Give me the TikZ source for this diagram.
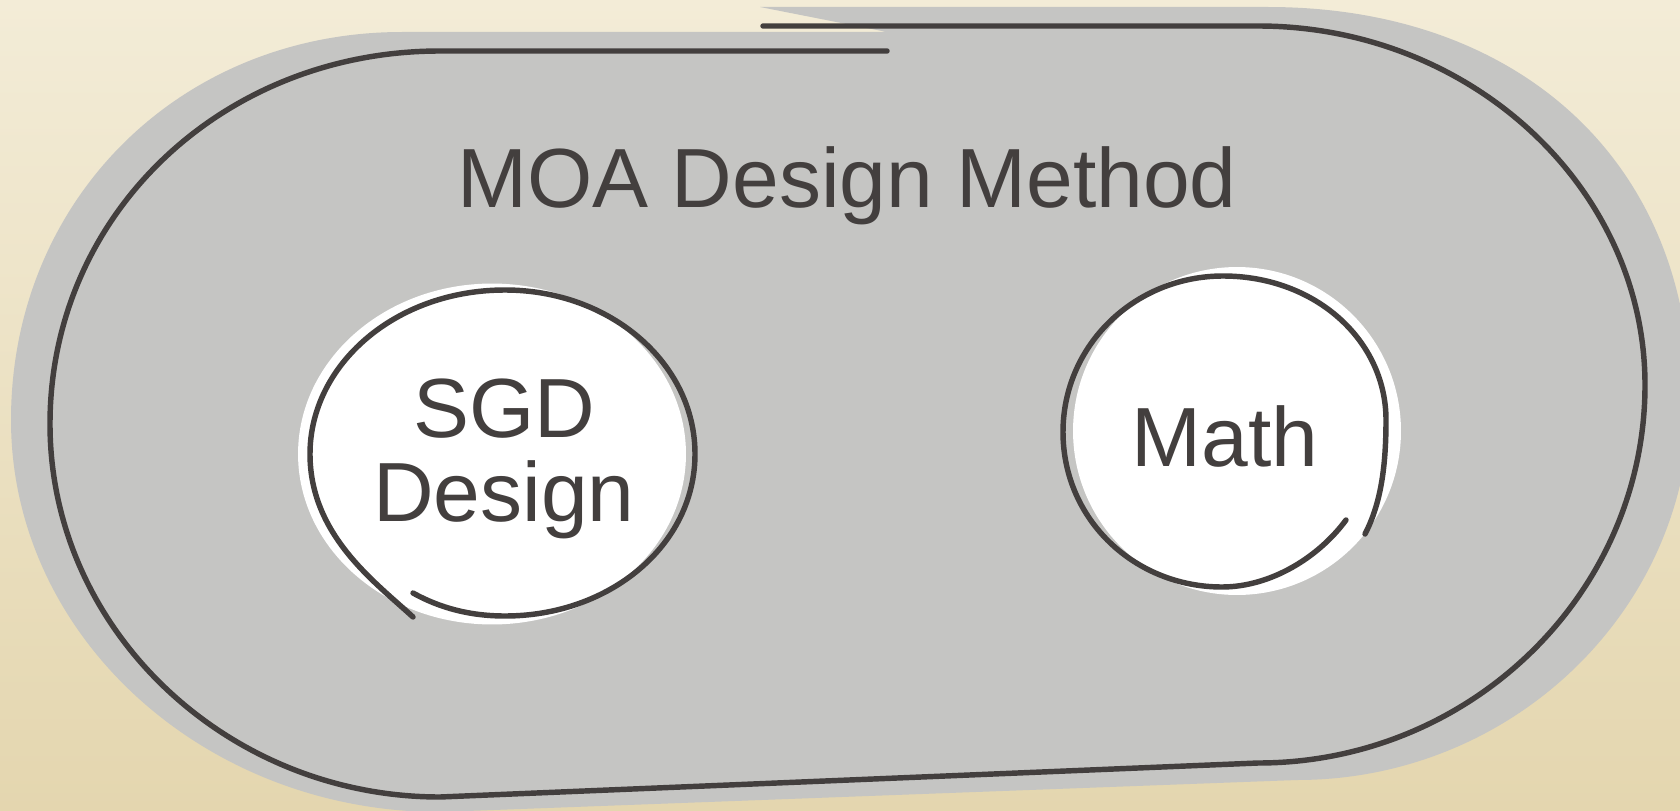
\documentclass[tikz,border=0pt]{standalone}
\usepackage{fontspec}
\setmainfont{Liberation Sans}

\definecolor{paper}{HTML}{F3ECD7}
\definecolor{paperdark}{HTML}{E4D6AF}
\definecolor{pill}{HTML}{C5C5C3}
\definecolor{ink}{HTML}{433F3E}

\begin{document}
\begin{tikzpicture}[x=0.02cm, y=-0.02cm,
    inkline/.style={draw=ink, line width=3.1pt, line cap=round, line join=round},
    words/.style={text=ink, inner sep=0pt, align=center,
                  font=\fontsize{47.8}{47.8}\selectfont}
]
    \useasboundingbox (0,0) rectangle (1680,811);
    \shade[top color=paper, bottom color=paperdark] (0,0) rectangle (1680,811);

    % grey body, a bit off the outline
    \fill[pill] (760,7) -- (1268,7)
        .. controls (1521,7) and (1690,164) .. (1690,400)
        .. controls (1690,609) and (1513,780) .. (1297,780)
        -- (440,812)
        .. controls (204,812) and (11,636) .. (11,420)
        .. controls (11,200) and (180,32) .. (402,32)
        -- (887,32) -- cycle;

    % outline, left open at the top
    \draw[inkline] (887,51) -- (440,51)
        .. controls (222,51) and (50,215) .. (50,424)
        .. controls (50,629) and (226,797) .. (440,797)
        -- (1258,763)
        .. controls (1471,763) and (1645,593) .. (1645,385)
        .. controls (1645,188) and (1471,26) .. (1258,26)
        -- (763,26);

    \node[words] (title) at (847,207) [anchor=base] {MOA Design Method};

    % SGD bubble
    \fill[white] (492,454) ellipse [x radius=3.88cm, y radius=3.41cm];
    \draw[inkline] (413,593) .. controls (440,608) and (470,616) .. (505,616)
        .. controls (610,616) and (695,545) .. (695,454)
        .. controls (695,363) and (610,290) .. (505,290)
        .. controls (395,290) and (310,365) .. (310,454)
        .. controls (310,535) and (375,582) .. (413,617);
    \node[words] (sgd) at (504,459) {SGD\\Design};

    % Math bubble
    \fill[white] (1237,431) circle [radius=3.28cm];
    \draw[inkline] (1365,534) .. controls (1380,505) and (1386,470) .. (1386,420)
        .. controls (1386,340) and (1315,276) .. (1223,276)
        .. controls (1135,276) and (1063,345) .. (1063,432)
        .. controls (1063,520) and (1135,587) .. (1222,587)
        .. controls (1270,587) and (1318,558) .. (1346,520);
    \node[words] (math) at (1225,466) [anchor=base] {Math};
\end{tikzpicture}
\end{document}
